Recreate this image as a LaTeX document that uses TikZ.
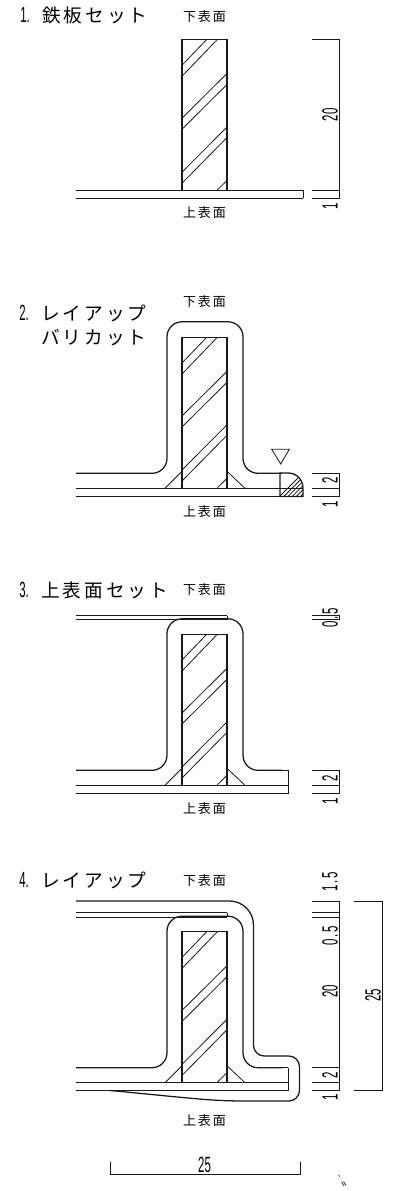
\documentclass[tikz,border=0pt]{standalone}
\usepackage{fontspec}
\usepackage{graphicx}
\setmainfont{Liberation Sans}
\newfontfamily\cjkbig[LetterSpace=16]{Noto Sans CJK JP}
\newfontfamily\cjksmall[LetterSpace=15]{Noto Sans CJK JP}
\newcommand{\numtext}[1]{\scalebox{0.52}[1]{\fontsize{16.5pt}{17pt}\selectfont #1}}
\newcommand{\titletext}[2]{\makebox[16.5pt][l]{\numtext{#1}}{\cjkbig\fontsize{14pt}{16pt}\selectfont #2}}
\tikzset{
  x=0.75pt,y=-0.75pt,
  heavy/.style={line width=0.95pt,black!90},
  light/.style={line width=0.6pt,black!90},
  dimline/.style={line width=0.6pt,black!90},
  titlelabel/.style={anchor=west,inner sep=0pt},
  facelabel/.style={inner sep=0pt,font=\cjksmall\fontsize{9.75pt}{11pt}\selectfont},
  dimlabel/.style={inner sep=0pt,rotate=90},
  coresection/.pic={
    \draw[heavy] (182,0) rectangle (227,151);
    \draw[light] (182.7,25) -- (206.7,0) (182.7,36) -- (217.3,0)
      (182.7,78) -- (227,34) (182.7,89) -- (227,45)
      (182.7,132) -- (227,87.5) (182.7,143) -- (227,98)
      (217.3,150.5) -- (227,141);
  },
  fillets/.pic={
    \draw[light] (165,151) -- (182,134) (227,134) -- (245,151);
  },
  layup/.pic={
    \draw[heavy,rounded corners=11.25pt] (76,136) -- (167,136) -- (167,-15.5) -- (243,-15.5) -- (243,136) -- (282,136);
  },
}
\begin{document}
\begin{tikzpicture}
\useasboundingbox (0,0) rectangle (414,1191);

% ---------- panel 1
\node[titlelabel] (t1) at (20,15.5) {\titletext{1.}{鉄板セット}};
\node[facelabel] (b1) at (204.5,16.5) {下表面};
\node[facelabel] (u1) at (204.5,213) {上表面};
\pic at (0,39.5) {coresection};
\draw[heavy] (76,190.5) -- (303,190.5) (76,198.5) -- (303,198.5);
\draw[light] (303,190.5) -- (303,198.5);
\draw[dimline] (312,39.5) -- (339.5,39.5) (312,190.5) -- (339.5,190.5) (312,198.5) -- (339.5,198.5) (339.5,39.5) -- (339.5,198.5);
\node[dimlabel] (d1a) at (330,115) {\numtext{20}};
\node[dimlabel] (d1b) at (330,206.5) {\numtext{1}};

% ---------- panel 2
\node[titlelabel] (t2) at (19,313) {\titletext{2.}{レイアップ}};
\node[titlelabel] (t2b) at (41,337.5) {{\cjkbig\fontsize{14pt}{16pt}\selectfont バリカット}};
\node[facelabel] (b2) at (204.5,302) {下表面};
\node[facelabel] (u2) at (204.5,511.7) {上表面};
\pic at (0,337.3) {coresection};
\pic at (0,337.3) {fillets};
\pic at (0,337.3) {layup};
\draw[heavy] (76,488.5) -- (303,488.5) (76,496.5) -- (303,496.5);
\begin{scope}
  \clip (280,473) -- (288,473) .. controls (297,473) and (303,480) .. (303,488) -- (303,496.5) -- (280,496.5) -- cycle;
  \foreach \k in {0,4.2,...,52}{
    \draw[light] (276+\k,500) -- (276+\k+30,470);
  }
\end{scope}
\draw[heavy] (303,496.5) -- (303,488) .. controls (303,480) and (297,473) .. (288,473) -- (280,473) -- (280,496.5) -- cycle;
\draw[light] (271.7,449.3) -- (289.3,449.3) -- (280.7,464) -- cycle;
\draw[dimline] (312,473) -- (339.5,473) (312,488.5) -- (339.5,488.5) (312,496.5) -- (339.5,496.5) (339.5,473) -- (339.5,496.5);
\node[dimlabel] (d2a) at (330,480.5) {\numtext{2}};
\node[dimlabel] (d2b) at (330,504) {\numtext{1}};

% ---------- panel 3
\node[titlelabel] (t3) at (19,590.7) {\titletext{3.}{上表面セット}};
\node[facelabel] (b3) at (204.5,590) {下表面};
\node[facelabel] (u3) at (204.5,808.7) {上表面};
\pic at (0,634.3) {coresection};
\pic at (0,634.3) {fillets};
\pic at (0,634.3) {layup};
\draw[heavy] (76,785.5) -- (288,785.5) (76,793.5) -- (288,793.5) (282,770.3) -- (288,770.3);
\draw[light] (288,770.3) -- (288,793.5);
\draw[heavy] (76,615.7) -- (227,615.7);
\draw[light] (76,619.7) -- (227,619.7) (227,615.7) -- (227,619.7);
\draw[dimline] (312,770.3) -- (339.5,770.3) (312,785.5) -- (339.5,785.5) (312,793.5) -- (339.5,793.5) (339.5,770.3) -- (339.5,793.5);
\node[dimlabel] (d3c) at (330,618) {\numtext{0\,.\,5}};
\draw[dimline] (312,615.7) -- (339.5,615.7) (312,619.7) -- (339.5,619.7) (339.5,615.7) -- (339.5,619.7);
\node[dimlabel] (d3a) at (330,778) {\numtext{2}};
\node[dimlabel] (d3b) at (330,801) {\numtext{1}};

% ---------- panel 4
\node[titlelabel] (t4) at (19,880.7) {\titletext{4.}{レイアップ}};
\node[facelabel] (b4) at (204.5,880.7) {下表面};
\node[facelabel] (u4) at (204.5,1120.7) {上表面};
\pic at (0,931.7) {coresection};
\pic at (0,931.7) {fillets};
\pic at (0,931.7) {layup};
\draw[heavy] (76,1082.5) -- (288,1082.5) (76,1090.5) -- (288,1090.5) (282,1067.5) -- (288,1067.5);
\draw[light] (288,1067.5) -- (288,1090.5);
\draw[heavy] (76,912.7) -- (227,912.7);
\draw[light] (76,916.9) -- (227,916.9) (227,912.7) -- (227,916.9);
\draw[heavy] (76,901) [rounded corners=18pt] -- (253.5,901) [rounded corners=8pt] -- (253.5,1056) -- (299.5,1056) -- (299.5,1101) -- (243,1101) [sharp corners] .. controls (205,1100.5) and (160,1095) .. (110,1090.5);
\draw[dimline] (312,901) -- (339.5,901) (312,912.7) -- (339.5,912.7) (312,916.9) -- (339.5,916.9)
  (312,1067.5) -- (339.5,1067.5) (312,1082.5) -- (339.5,1082.5) (312,1090.5) -- (339.5,1090.5)
  (339.5,901) -- (339.5,1090.5);
\draw[dimline] (354,901) -- (382,901) -- (382,1090.5) -- (354,1090.5);
\node[dimlabel] (d4a) at (330,882) {\numtext{1\,.\,5}};
\node[dimlabel] (d4b) at (330,936) {\numtext{0\,.\,5}};
\node[dimlabel] (d4c) at (330,991) {\numtext{20}};
\node[dimlabel] (d4d) at (330,1075) {\numtext{2}};
\node[dimlabel] (d4e) at (330,1097.7) {\numtext{1}};
\node[dimlabel] (d4f) at (373,995) {\numtext{25}};
\draw[dimline] (110,1162) -- (110,1174) -- (300,1174) -- (300,1162);
\node[inner sep=0pt] (d4g) at (204.5,1165) {\numtext{25}};
% stray specks
\draw[line width=0.7pt,black!70] (338.5,1175) -- (339.5,1176.5) (341.5,1182) -- (344,1186) (343.5,1181.5) -- (346,1185.5);
\end{tikzpicture}
\end{document}
